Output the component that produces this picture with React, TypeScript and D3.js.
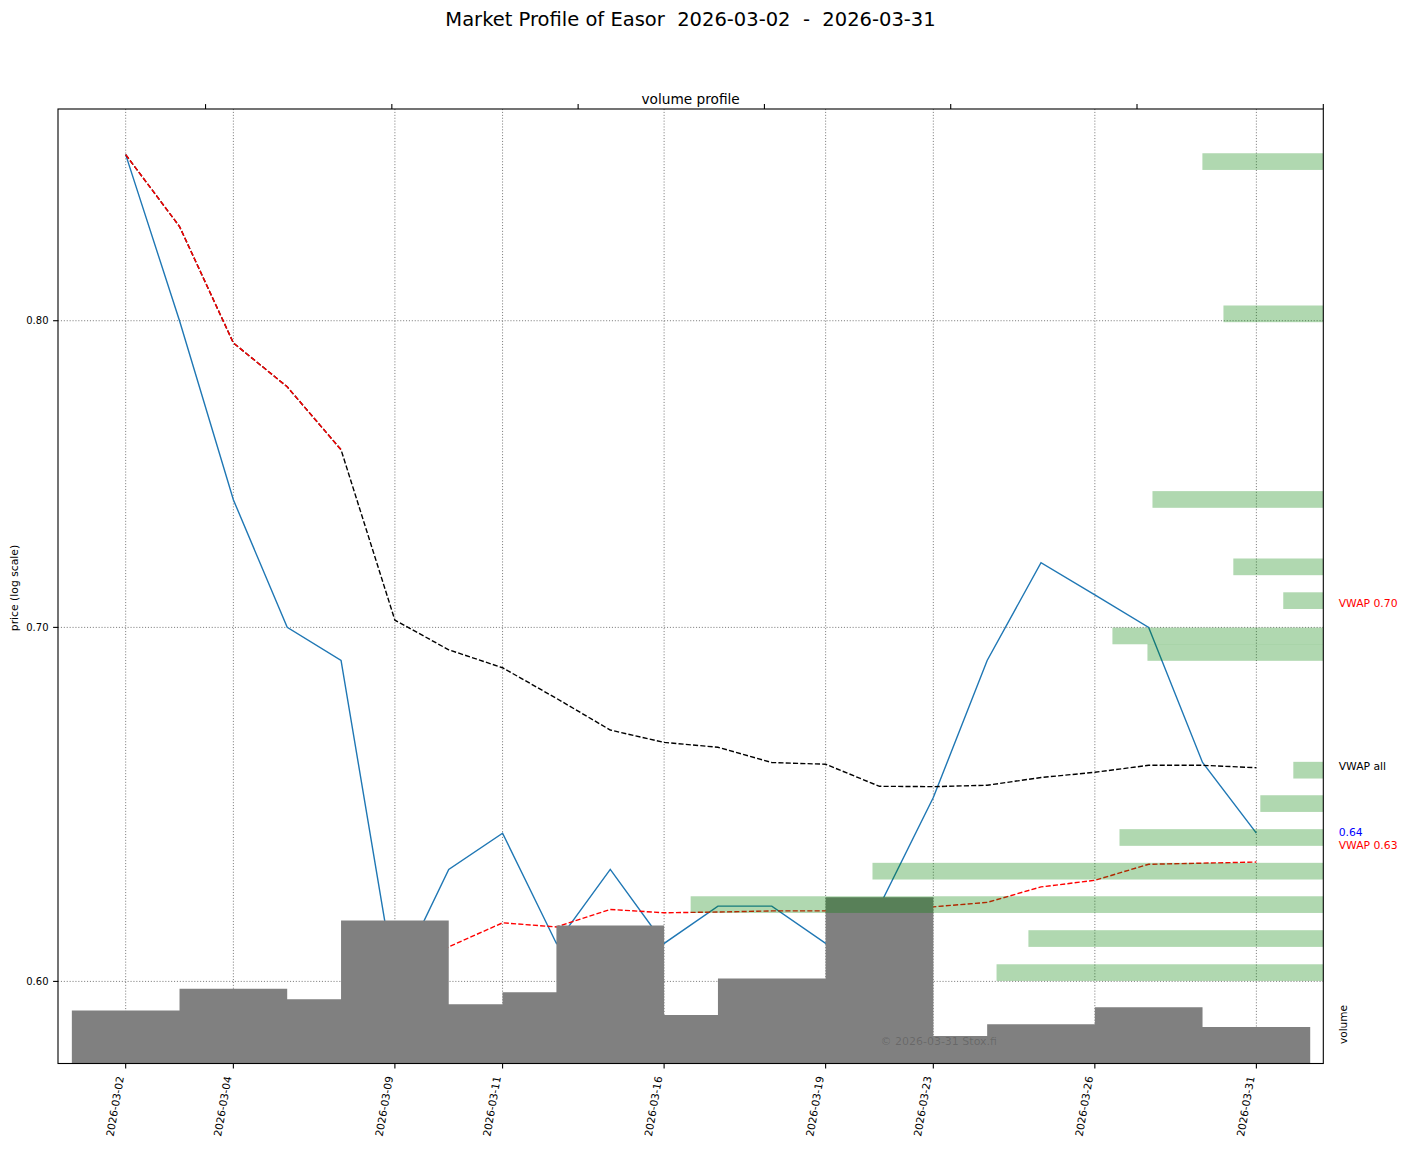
import * as d3 from "d3";

// trading days shown on the x axis (categorical, one slot per day)
const days = [
  "2026-03-02", "2026-03-03", "2026-03-04", "2026-03-05", "2026-03-06",
  "2026-03-09", "2026-03-10", "2026-03-11", "2026-03-12", "2026-03-13",
  "2026-03-16", "2026-03-17", "2026-03-18", "2026-03-19", "2026-03-20",
  "2026-03-23", "2026-03-24", "2026-03-25", "2026-03-26", "2026-03-27",
  "2026-03-30", "2026-03-31"
];
const tickDays = [
  "2026-03-02", "2026-03-04", "2026-03-09", "2026-03-11", "2026-03-16",
  "2026-03-19", "2026-03-23", "2026-03-26", "2026-03-31"
];

const closes = [
  0.86, 0.80, 0.74, 0.70, 0.69, 0.60, 0.63, 0.64, 0.61, 0.63, 0.61,
  0.62, 0.62, 0.61, 0.62, 0.65, 0.69, 0.72, 0.71, 0.70, 0.66, 0.64
];
const volumes = [
  64900, 53600, 91700, 44200, 78800, 175400, 72700, 64600, 87300, 169300, 59400,
  31300, 104300, 11600, 204000, 33800, 15600, 48300, 21500, 69000, 16100, 44800
];
const vwapAll = [
  0.86, 0.8335, 0.7923, 0.7773, 0.7563, 0.7022, 0.6932, 0.6878, 0.6787, 0.6694, 0.6658,
  0.6644, 0.66, 0.6595, 0.6532, 0.6531, 0.6535, 0.6557, 0.6572, 0.6592, 0.6592, 0.6585
];
// red anchored vwaps: first one runs from day 0, second from the low on day 5
const vwapEarlyStart = 0;
const vwapEarly = [0.86, 0.8335, 0.7923, 0.7773, 0.7563];
const vwapLowStart = 5;
const vwapLow = [
  0.60, 0.6091, 0.6155, 0.6144, 0.6191, 0.6182, 0.6184, 0.6187, 0.6187,
  0.6187, 0.6198, 0.621, 0.6252, 0.627, 0.6314, 0.6317, 0.632
];

// volume profile (horizontal bars at the right)
const profilePrices = [
  0.8574, 0.8024, 0.7401, 0.7187, 0.7082, 0.6974, 0.6924,
  0.6578, 0.6483, 0.6388, 0.6295, 0.6204, 0.6113, 0.6023
];
const profileVolumes = [
  64900, 53600, 91700, 48300, 21500, 113200, 94400,
  16100, 33800, 109400, 242000, 339600, 158300, 175400
];
const profileTicks = [0, 100000, 200000, 300000, 400000, 500000, 600000];

const priceTicks = [0.6, 0.7, 0.8];

const sideLabelTexts = ["VWAP 0.70", "VWAP all", "0.64", "VWAP 0.63"];
const sideLabelPrices = [0.7074, 0.659, 0.6404, 0.6367];
const sideLabelColors = ["red", "black", "blue", "red"];

const W = 1409;
const H = 1149;
const plot = { left: 58, right: 1323.3, top: 109, bottom: 1063.5 };
const font = "DejaVu Sans";
const barLogHalf = 0.003636;

export default function App() {
  const x = d3.scaleLinear([-1.257, 22.243], [plot.left, plot.right]);
  const y = d3.scaleLog([0.57893, 0.87726], [plot.bottom, plot.top]);
  const yVol = d3.scaleLinear([0, 1171000], [plot.bottom, plot.top]);
  const xProfile = d3.scaleLinear([0, 679200], [plot.right, plot.left]);

  const lineFrom = (start: number) =>
    d3.line<number>()
      .x((_, i) => x(i + start))
      .y((d) => y(d));

  // the two-slot-wide volume bars overlap; merge them into one outline so no seams show
  const volumePath = d3.path();
  volumes.forEach((v, i) => {
    volumePath.rect(x(i - 1), yVol(v), x(i + 1) - x(i - 1), plot.bottom - yVol(v));
  });

  const plotW = plot.right - plot.left;
  const plotH = plot.bottom - plot.top;
  const dash = "5.1,2.2";

  return (
    <svg
      width={W}
      height={H}
      viewBox={`0 0 ${W} ${H}`}
      style={{ position: "absolute", left: 0, top: 0, background: "#fff" }}
      fontFamily={font}
    >
      <defs>
        <clipPath id="plot-clip">
          <rect x={plot.left} y={plot.top} width={plotW} height={plotH} />
        </clipPath>
      </defs>

      <text x={690.5} y={26} textAnchor="middle" fontSize={19.5} style={{ whiteSpace: "pre" }}>
        {"Market Profile of Easor  2026-03-02  -  2026-03-31"}
      </text>
      <text x={(plot.left + plot.right) / 2} y={103.5} textAnchor="middle" fontSize={13.7}>
        volume profile
      </text>

      <g clipPath="url(#plot-clip)">
        {/* grid */}
        {tickDays.map((d) => {
          const tx = x(days.indexOf(d));
          return (
            <line key={d} x1={tx} x2={tx} y1={plot.top} y2={plot.bottom}
              stroke="#808080" strokeWidth={1} strokeDasharray="1.1,1.8" />
          );
        })}
        {priceTicks.map((p) => (
          <line key={p} x1={plot.left} x2={plot.right} y1={y(p)} y2={y(p)}
            stroke="#808080" strokeWidth={1} strokeDasharray="1.1,1.8" />
        ))}

        {/* price + vwap lines */}
        <path d={lineFrom(0)(closes) ?? undefined} fill="none" stroke="#1f77b4" strokeWidth={1.4} />
        <path d={lineFrom(0)(vwapAll) ?? undefined} fill="none" stroke="black" strokeWidth={1.4} strokeDasharray={dash} />
        <path d={lineFrom(vwapEarlyStart)(vwapEarly) ?? undefined} fill="none" stroke="red" strokeWidth={1.4} strokeDasharray={dash} />
        <path d={lineFrom(vwapLowStart)(vwapLow) ?? undefined} fill="none" stroke="red" strokeWidth={1.4} strokeDasharray={dash} />

        {/* daily volume, two slots wide */}
        <path d={volumePath.toString()} fill="#808080" fillRule="nonzero" />

        {/* volume profile */}
        {profilePrices.map((p, i) => {
          const top = y(p * Math.exp(barLogHalf));
          const bottom = y(p / Math.exp(barLogHalf));
          const left = xProfile(profileVolumes[i]);
          return (
            <rect key={p} x={left} width={plot.right - left} y={top} height={bottom - top}
              fill="green" fillOpacity={0.31} />
          );
        })}

        <text x={plot.left + 0.65 * plotW} y={plot.bottom - 0.0236 * plotH + 4} fontSize={11}
          fill="black" fillOpacity={0.2}>
          © 2026-03-31 Stox.fi
        </text>
      </g>

      {/* frame */}
      <rect x={plot.left} y={plot.top} width={plotW} height={plotH} fill="none" stroke="black" strokeWidth={1.1} />

      {/* top ticks of the profile axis */}
      {profileTicks.map((t) => (
        <line key={t} x1={xProfile(t)} x2={xProfile(t)} y1={plot.top} y2={plot.top - 4.9} stroke="black" strokeWidth={1.1} />
      ))}

      {/* bottom date ticks */}
      {tickDays.map((d) => {
        const tx = x(days.indexOf(d));
        return (
          <g key={d}>
            <line x1={tx} x2={tx} y1={plot.bottom} y2={plot.bottom + 4.9} stroke="black" strokeWidth={1.1} />
            <text transform={`translate(${tx - 1.7},${plot.bottom + 13.5}) rotate(-80)`} textAnchor="end" fontSize={10.5}>
              {d}
            </text>
          </g>
        );
      })}

      {/* price ticks */}
      {priceTicks.map((p) => (
        <g key={p}>
          <line x1={plot.left - 4.9} x2={plot.left} y1={y(p)} y2={y(p)} stroke="black" strokeWidth={1.1} />
          <text x={plot.left - 9.5} y={y(p) + 3.6} textAnchor="end" fontSize={10}>
            {d3.format(".2f")(p)}
          </text>
        </g>
      ))}
      <text transform={`translate(18,588) rotate(-90)`} textAnchor="middle" fontSize={10.8}>
        price (log scale)
      </text>

      <text transform={`translate(1347,1024.5) rotate(-90)`} textAnchor="middle" fontSize={10.5}>
        volume
      </text>

      {sideLabelTexts.map((t, i) => (
        <text key={t} x={1338.7} y={y(sideLabelPrices[i]) + 3.9} fontSize={10.8} fill={sideLabelColors[i]}>
          {t}
        </text>
      ))}
    </svg>
  );
}
